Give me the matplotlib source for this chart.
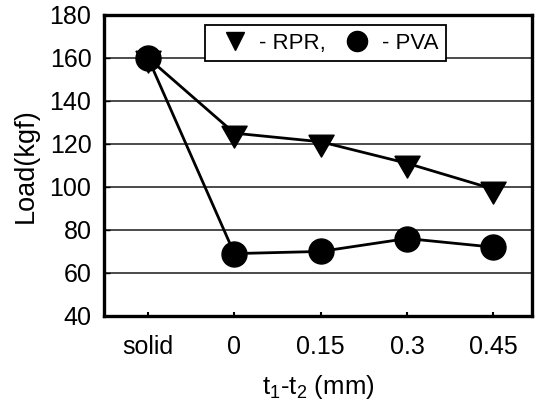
import numpy as np
import matplotlib
matplotlib.use('Agg')
import matplotlib.pyplot as plt
from matplotlib.lines import Line2D

plt.rcParams['font.family'] = ['Liberation Sans', 'DejaVu Sans']
plt.rcParams['mathtext.default'] = 'regular'

# Load at each gap setting
categories = ['solid', '0', '0.15', '0.3', '0.45']
load_rpr = [160, 125, 121, 111, 99]
load_pva = [160, 69, 70, 76, 72]
yticks = [40, 60, 80, 100, 120, 140, 160, 180]

# downward triangle with its centroid on the data point
tri = [(-1.0, 0.577), (1.0, 0.577), (0.0, -1.155), (-1.0, 0.577)]

fig = plt.figure(figsize=(5.36, 4.03), dpi=100)
ax = fig.add_axes([0.194, 0.216, 0.799, 0.747])

x = np.arange(len(categories))
ax.plot(x, load_rpr, color='black', lw=2.0, marker=tri, ms=21, zorder=3)
ax.plot(x, load_pva, color='black', lw=2.0, marker='o', ms=18, zorder=4)

ax.set_xlim(-0.51, 4.45)
ax.set_ylim(40, 180)
ax.set_xticks(x)
ax.set_xticklabels(categories)
ax.set_yticks(yticks)
ax.yaxis.grid(True, color='#1a1a1a', lw=1.1)
ax.set_axisbelow(True)

for s in ax.spines.values():
    s.set_linewidth(2.4)
ax.tick_params(axis='y', direction='in', length=4, width=1, labelsize=18, pad=9)
ax.tick_params(axis='x', direction='in', length=3, width=1.5, labelsize=18, pad=14)

ax.set_ylabel('Load(kgf)', fontsize=19.5, labelpad=8)
ax.set_xlabel('t$_1$-t$_2$ (mm)', fontsize=18.5, labelpad=10)

handles = [
    Line2D([], [], ls='none', marker='v', ms=12.5, color='black'),
    Line2D([], [], ls='none', marker='o', ms=14.5, color='black'),
]
leg = ax.legend(handles, ['- RPR,', '- PVA'], ncol=2, loc='upper left',
                bbox_to_anchor=(0.236, 0.967), fontsize=16, frameon=True,
                fancybox=False, framealpha=1, edgecolor='black',
                handlelength=2.0, handletextpad=0.1, columnspacing=0.4,
                borderpad=0.35, borderaxespad=0)
leg.get_frame().set_linewidth(1.3)

fig.savefig('out.png', dpi=100)
